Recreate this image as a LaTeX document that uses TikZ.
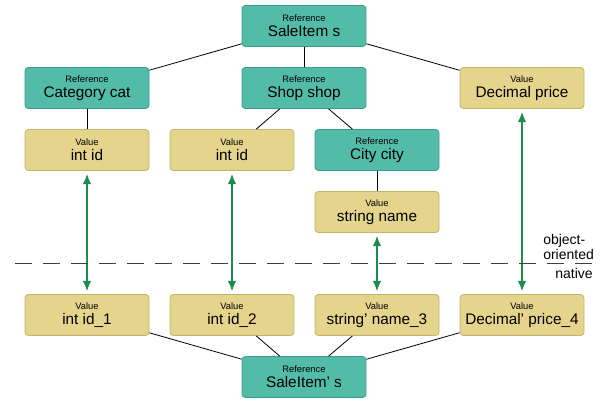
\documentclass[tikz,border=0pt]{standalone}
\usepackage{fontspec}
\setmainfont{Liberation Sans}
\usetikzlibrary{arrows.meta}

\definecolor{refteal}{HTML}{52BCA9}
\definecolor{refedge}{HTML}{3E9C8A}
\definecolor{valsand}{HTML}{E5D48C}
\definecolor{valedge}{HTML}{C4B46A}
\definecolor{mapgreen}{HTML}{1B8E4B}

\newcommand{\kindname}[2]{{\fontsize{7pt}{8pt}\selectfont #1}\\[-0.5pt]{\fontsize{11.5pt}{13pt}\selectfont #2}}

\begin{document}
\begin{tikzpicture}[x=0.75pt, y=-0.75pt,
    box/.style={rounded corners=2.5pt, minimum width=93pt, minimum height=30.75pt,
                align=center, inner sep=0pt, line width=0.6pt},
    refbox/.style={box, fill=refteal, draw=refedge},
    valbox/.style={box, fill=valsand, draw=valedge},
    link/.style={line width=0.6pt},
    mapping/.style={{Latex[length=8pt,width=6.5pt]}-{Latex[length=8pt,width=6.5pt]}, mapgreen, line width=1.4pt, shorten <=2pt, shorten >=2pt}]
        \useasboundingbox (0, 0) rectangle (602, 401);

        % object-oriented side
        \node[refbox] (sale) at (304, 26) {\kindname{Reference}{SaleItem s}};
        \node[refbox] (cat) at (87, 88) {\kindname{Reference}{Category cat}};
        \node[refbox] (shop) at (304, 88) {\kindname{Reference}{Shop shop}};
        \node[valbox] (price) at (522, 88) {\kindname{Value}{Decimal price}};
        \node[valbox] (catid) at (87, 150) {\kindname{Value}{int id}};
        \node[valbox] (shopid) at (232, 150) {\kindname{Value}{int id}};
        \node[refbox] (city) at (377, 150) {\kindname{Reference}{City city}};
        \node[valbox] (cityname) at (377, 212) {\kindname{Value}{string name}};

        % native side
        \node[valbox] (id1) at (87, 315) {\kindname{Value}{int id\_1}};
        \node[valbox] (id2) at (232, 315) {\kindname{Value}{int id\_2}};
        \node[valbox] (name3) at (377, 315) {\kindname{Value}{string' name\_3}};
        \node[valbox] (price4) at (522, 315) {\kindname{Value}{Decimal' price\_4}};
        \node[refbox] (salen) at (304, 377) {\kindname{Reference}{SaleItem' s}};

        \draw[link] (sale) -- (cat);
        \draw[link] (sale) -- (shop);
        \draw[link] (sale) -- (price);
        \draw[link] (cat) -- (catid);
        \draw[link] (shop) -- (shopid);
        \draw[link] (shop) -- (city);
        \draw[link] (city) -- (cityname);
        \draw[link] (salen) -- (id1);
        \draw[link] (salen) -- (id2);
        \draw[link] (salen) -- (name3);
        \draw[link] (salen) -- (price4);

        \draw[mapping] (catid) -- (id1);
        \draw[mapping] (shopid) -- (id2);
        \draw[mapping] (cityname) -- (name3);
        \draw[mapping] (price) -- (price4);

        % boundary between the two worlds
        \coordinate (cutL) at (15, 263);
        \coordinate (cutR) at (593, 263);
        \draw[line width=0.7pt, black!75, dash pattern=on 13pt off 8pt] (cutL) -- (cutR);
        \node[anchor=south west, align=left, inner sep=0pt, font=\fontsize{10.5pt}{11.5pt}\selectfont] (oo) at (543, 260) {object-\\oriented};
        \node[anchor=north east, inner sep=0pt, font=\fontsize{10.5pt}{11.5pt}\selectfont] (nat) at (593, 268) {native};
    \end{tikzpicture}
\end{document}
